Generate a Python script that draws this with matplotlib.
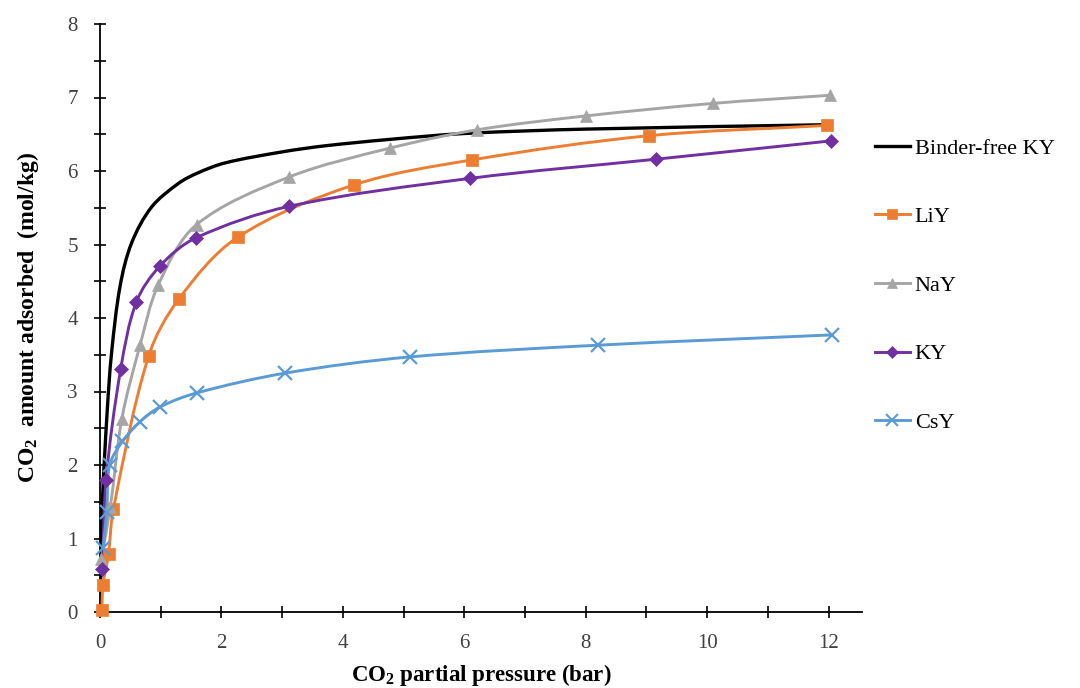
import numpy as np
import matplotlib
matplotlib.use("Agg")
import matplotlib.pyplot as plt
from matplotlib.path import Path
from matplotlib.patches import PathPatch
from matplotlib.lines import Line2D

# ---- data ----
bf_x = [0.0, 0.04, 0.12, 0.19, 0.33, 0.52, 0.85, 1.29, 1.6, 2.06, 3.0, 3.68, 4.77, 6.0, 8.0, 12.0]
bf_y = [0.0, 1.50, 2.75, 3.52, 4.43, 5.02, 5.51, 5.83, 5.97, 6.11, 6.26, 6.34, 6.43, 6.51, 6.57, 6.63]

li_x = [0.03, 0.05, 0.14, 0.22, 0.80, 1.30, 2.27, 4.18, 6.12, 9.04, 11.98]
li_y = [0.03, 0.37, 0.79, 1.40, 3.48, 4.26, 5.10, 5.81, 6.15, 6.48, 6.62]

na_x = [0.02, 0.17, 0.36, 0.66, 0.96, 1.59, 3.12, 4.77, 6.21, 8.01, 10.1, 12.02]
na_y = [0.72, 1.43, 2.63, 3.63, 4.45, 5.27, 5.92, 6.31, 6.56, 6.75, 6.92, 7.03]

ky_x = [0.04, 0.10, 0.34, 0.60, 0.99, 1.58, 3.12, 6.10, 9.15, 12.04]
ky_y = [0.58, 1.80, 3.30, 4.22, 4.71, 5.09, 5.52, 5.90, 6.16, 6.41]

cs_x = [0.05, 0.11, 0.16, 0.37, 0.66, 0.99, 1.59, 3.05, 5.10, 8.20, 12.05]
cs_y = [0.87, 1.36, 2.00, 2.32, 2.59, 2.79, 2.98, 3.25, 3.47, 3.63, 3.77]

labels = ["Binder-free KY", "LiY", "NaY", "KY", "CsY"]
colors = ["#000000", "#ED7D31", "#A5A5A5", "#7030A0", "#5B9BD5"]

x_ticks = list(range(0, 13))
x_ticklabels = ["0", "", "2", "", "4", "", "6", "", "8", "", "10", "", "12"]
y_ticks = list(range(0, 9))

plt.rcParams["font.family"] = ["Liberation Serif", "DejaVu Serif"]
plt.rcParams["mathtext.fontset"] = "custom"
plt.rcParams["mathtext.rm"] = "Liberation Serif:bold"
plt.rcParams["mathtext.it"] = "Liberation Serif:bold"
plt.rcParams["mathtext.bf"] = "Liberation Serif:bold"

fig = plt.figure(figsize=(10.8, 6.88), dpi=100)
ax = fig.add_axes([100 / 1080, 76 / 688, 762 / 1080, 588 / 688])
ax.set_xlim(0, 12.55)
ax.set_ylim(0, 8)


def smooth_path(xs, ys):
    """Smoothed line (chord-length Catmull-Rom as cubic Bezier), built in display space."""
    pts = ax.transData.transform(np.column_stack([xs, ys]).astype(float))
    n = len(pts)
    d = np.linalg.norm(np.diff(pts, axis=0), axis=1)
    d = np.maximum(d, 1e-6)
    t = np.concatenate([[0], np.cumsum(d)])
    tang = np.zeros_like(pts)
    for i in range(n):
        if i == 0:
            tang[i] = (pts[1] - pts[0]) / (t[1] - t[0])
        elif i == n - 1:
            tang[i] = (pts[-1] - pts[-2]) / (t[-1] - t[-2])
        else:
            tang[i] = (pts[i + 1] - pts[i - 1]) / (t[i + 1] - t[i - 1])
    verts = [pts[0]]
    codes = [Path.MOVETO]
    for i in range(n - 1):
        h = t[i + 1] - t[i]
        verts += [pts[i] + tang[i] * h / 3.0, pts[i + 1] - tang[i + 1] * h / 3.0, pts[i + 1]]
        codes += [Path.CURVE4] * 3
    verts = ax.transData.inverted().transform(np.array(verts))
    return Path(verts, codes)


series = [
    (bf_x, bf_y, None, 0),
    (li_x, li_y, "s", 8),
    (na_x, na_y, "^", 9),
    (ky_x, ky_y, "D", 7.5),
    (cs_x, cs_y, "x", 9.5),
]

handles = []
for (xs, ys, mk, ms), lab, col in zip(series, labels, colors):
    lw = 2.4 if mk is None else 2.1
    ax.add_patch(PathPatch(smooth_path(xs, ys), facecolor="none", edgecolor=col,
                           lw=lw, capstyle="round", joinstyle="round", zorder=3))
    if mk is not None:
        ax.plot(xs, ys, linestyle="none", marker=mk, ms=ms, color=col,
                mec=col, mew=1.6 if mk == "x" else 0.5, zorder=4, clip_on=False)
    handles.append(Line2D([], [], color=col, lw=lw, marker=mk, ms=ms * 0.85 if mk else 0,
                          mew=1.5 if mk == "x" else 0.5))

ax.set_xticks(x_ticks)
ax.set_xticklabels(x_ticklabels)
ax.set_yticks(y_ticks)
ax.set_yticks(np.arange(0.5, 8, 1.0), minor=True)
for s in ["top", "right"]:
    ax.spines[s].set_visible(False)
for s in ["left", "bottom"]:
    ax.spines[s].set_linewidth(1.3)
ax.tick_params(axis="both", which="both", direction="inout", length=9, width=1.2,
               colors="black", labelcolor="#404040", labelsize=15)
ax.tick_params(axis="x", pad=11)
ax.tick_params(axis="y", pad=11.5)

ax.set_xlabel("CO$_2$ partial pressure (bar)", fontsize=16.5, fontweight="bold", labelpad=6.5)
ax.set_ylabel("CO$_2$  amount adsorbed  (mol/kg)", fontsize=17, fontweight="bold", labelpad=19)

leg = ax.legend(handles, labels, loc="upper left", bbox_to_anchor=(1.005, 0.821),
                frameon=False, fontsize=16, handlelength=1.6, handletextpad=0.2,
                labelspacing=2.16, borderaxespad=0)
for t in leg.get_texts():
    t.set_color("black")

fig.savefig("out.png", dpi=100)
